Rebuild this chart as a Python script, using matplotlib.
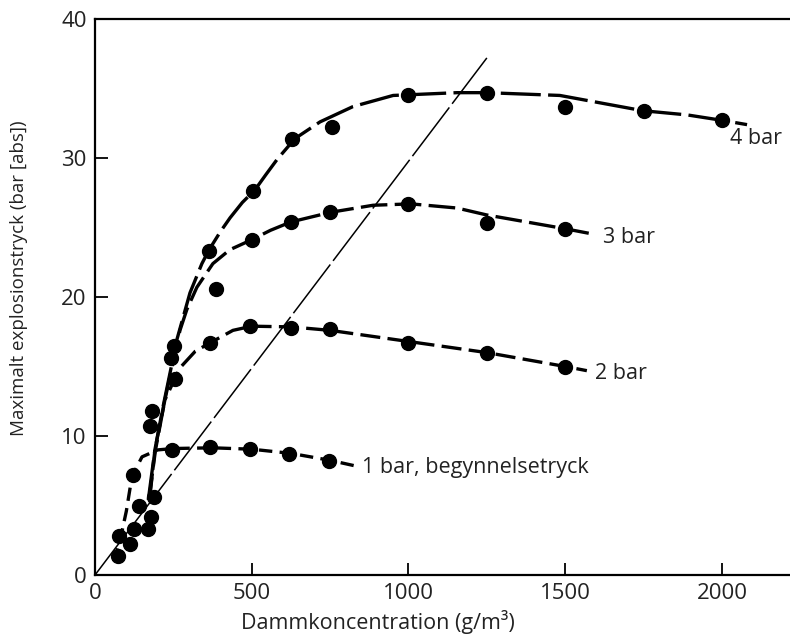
import matplotlib.pyplot as plt

plt.rcParams['font.family'] = ['Open Sans', 'DejaVu Sans']

# measured points (g/m3, bar)
p4_x = [365, 505, 630, 755, 1000, 1250, 1500, 1750, 2000]
p4_y = [23.3, 27.6, 31.4, 32.2, 34.5, 34.7, 33.7, 33.4, 32.7]
p3_x = [386, 500, 625, 750, 1000, 1250, 1500]
p3_y = [20.6, 24.1, 25.4, 26.1, 26.7, 25.3, 24.9]
p2_x = [367, 495, 625, 750, 1000, 1250, 1500]
p2_y = [16.7, 17.9, 17.8, 17.7, 16.7, 16.0, 15.0]
p1_x = [245, 367, 495, 620, 745]
p1_y = [9.0, 9.2, 9.05, 8.7, 8.2]
low_x = [252, 242, 255, 182, 175, 121, 188, 140, 179, 124, 169, 77, 112, 73]
low_y = [16.5, 15.6, 14.1, 11.8, 10.7, 7.2, 5.6, 5.0, 4.2, 3.3, 3.3, 2.8, 2.2, 1.4]

# hand drawn curves
c4_x = [170, 191, 217, 262, 303, 341, 364, 400, 431, 470, 510, 545, 581, 638, 718,
        823, 951, 1155, 1250, 1483, 1748, 1889, 2003, 2080]
c4_y = [5.4, 9.0, 12.1, 17.0, 20.3, 22.4, 23.4, 24.7, 25.7, 26.8, 27.7, 28.8, 29.9,
        31.4, 32.6, 33.7, 34.5, 34.7, 34.7, 34.5, 33.4, 33.1, 32.7, 32.4]
c3_x = [172, 193, 223, 271, 293, 325, 376, 430, 498, 560, 625, 753, 887, 1008, 1155,
        1250, 1502, 1595]
c3_y = [5.4, 9.0, 12.6, 17.6, 19.1, 20.7, 22.4, 23.4, 24.1, 24.8, 25.4, 26.1, 26.6,
        26.7, 26.4, 25.9, 24.9, 24.5]
c2_x = [175, 191, 223, 271, 320, 367, 440, 500, 625, 750, 1000, 1250, 1500, 1569]
c2_y = [5.6, 9.0, 12.6, 14.9, 16.1, 16.7, 17.6, 17.9, 17.85, 17.6, 16.8, 16.0, 15.0,
        14.7]
c1_x = [60, 80, 100, 118, 150, 200, 250, 375, 500, 625, 750, 830]
c1_y = [1.0, 2.5, 4.6, 7.1, 8.5, 9.0, 9.1, 9.15, 9.05, 8.75, 8.25, 7.85]
ref_x = [0, 1250]
ref_y = [0, 37.2]

labels = ['4 bar', '3 bar', '2 bar', '1 bar, begynnelsetryck']
label_x = [2025, 1620, 1595, 852]
label_y = [31.4, 24.3, 14.5, 7.75]

fig = plt.figure(figsize=(7.9, 6.34), dpi=100)
ax = fig.add_axes([95 / 790, 59 / 634, 695 / 790, 556 / 634])

ax.plot(ref_x, ref_y, color='black', lw=1.1, dashes=(40, 3))
ax.plot(c4_x, c4_y, color='black', lw=2.4, dashes=(12, 2.2))
ax.plot(c3_x, c3_y, color='black', lw=2.4, dashes=(8, 2.2))
ax.plot(c2_x, c2_y, color='black', lw=2.4, dashes=(6, 2.2))
ax.plot(c1_x, c1_y, color='black', lw=2.4, dashes=(4, 2.2))

for xs, ys in [(p4_x, p4_y), (p3_x, p3_y), (p2_x, p2_y), (p1_x, p1_y), (low_x, low_y)]:
    ax.plot(xs, ys, 'o', color='black', ms=10, zorder=3)

for t, x, y in zip(labels, label_x, label_y):
    ax.text(x, y, t, fontsize=15.5, va='center', ha='left', color='#222222')

ax.set_xlim(0, 2217)
ax.set_ylim(0, 40)
ax.set_xticks([0, 500, 1000, 1500, 2000])
ax.set_yticks([0, 10, 20, 30, 40])
ax.tick_params(direction='in', length=9, width=1.3, labelsize=16, pad=6,
               labelcolor='#222222')
ax.spines['right'].set_visible(False)
for s in ['left', 'bottom', 'top']:
    ax.spines[s].set_linewidth(1.6)

ax.set_xlabel('Dammkoncentration (g/m³)', fontsize=15.5, color='#222222', va='center')
ax.xaxis.set_label_coords(0.407, -0.085)
ax.set_ylabel('Maximalt explosionstryck (bar [abs])', fontsize=13.5, color='#222222',
              va='center')
ax.yaxis.set_label_coords(-0.11, 0.534)

fig.savefig('out.png', dpi=100)
